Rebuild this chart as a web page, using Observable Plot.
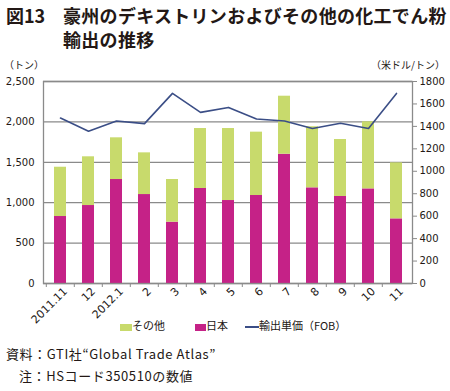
<!DOCTYPE html>
<html><head><meta charset="utf-8">
<script src="https://cdn.jsdelivr.net/npm/d3@7"></script>
<script src="https://cdn.jsdelivr.net/npm/@observablehq/plot@0.6"></script>
<style>
body{margin:0;width:450px;height:391px;position:relative;background:#fff;font-family:"Noto Sans CJK JP",sans-serif;color:#231815;overflow:hidden}
.abs{position:absolute;white-space:nowrap}
#chart{position:absolute;left:0;top:55px}
.sw{display:inline-block;vertical-align:middle}
</style></head><body>
<div id="chart"></div>
<div class="abs" style="left:6px;top:4px;font-size:18px;font-weight:bold;line-height:23px">図13</div>
<div class="abs" style="left:63px;top:4px;font-size:18px;font-weight:bold;line-height:23px;letter-spacing:0.3px">豪州のデキストリンおよびその他の化工でん粉</div>
<div class="abs" style="left:63px;top:28px;font-size:18px;font-weight:bold;line-height:23px;letter-spacing:0.3px">輸出の推移</div>
<div class="abs" style="left:4px;top:57px;font-size:10px">（トン）</div>
<div class="abs" style="right:5px;top:57px;font-size:10px">（米ドル/トン）</div>
<div class="abs" style="left:120px;top:317px;font-size:11px;line-height:16px"><span class="sw" style="width:12px;height:7px;background:#C8DA6C"></span>その他</div>
<div class="abs" style="left:195px;top:317px;font-size:11px;line-height:16px"><span class="sw" style="width:11px;height:7px;background:#C52287"></span>日本</div>
<div class="abs" style="left:245px;top:317px;font-size:11px;line-height:16px"><span class="sw" style="width:14px;height:2px;background:#3B4E86"></span>輸出単価（FOB）</div>
<div class="abs" style="left:6px;top:345px;font-size:13px;line-height:18px;letter-spacing:0.6px">資料：GTI社“Global Trade Atlas”</div>
<div class="abs" style="left:19px;top:367px;font-size:13px;line-height:18px;letter-spacing:0.6px">注：HSコード350510の数値</div>
<script>
const months = ["2011.11","12","2012.1","2","3","4","5","6","7","8","9","10","11"];
const japan  = [829, 965, 1287, 1101, 759, 1176, 1027, 1089, 1600, 1184, 1077, 1171, 800];
const others = [610, 603, 516, 516, 528, 742, 891, 784, 718, 756, 705, 830, 693];
const price  = [1475, 1357, 1448, 1425, 1694, 1525, 1569, 1466, 1448, 1381, 1428, 1381, 1694];
const leftTicks = [0, 500, 1000, 1500, 2000, 2500];
const rightTicks = [0, 200, 400, 600, 800, 1000, 1200, 1400, 1600, 1800];

const ratio = 2500 / 1800;
const rows = [];
months.forEach((m, i) => rows.push({month: m, series: "日本", value: japan[i]}));
months.forEach((m, i) => rows.push({month: m, series: "その他", value: others[i]}));
const priceRows = months.map((m, i) => ({month: m, p: price[i]}));

const W = 450, H = 280, mL = 43, mR = 38, mT = 26, mB = 52;
const step = (W - mL - mR) / months.length;

const chart = Plot.plot({
  width: W, height: H,
  marginLeft: mL, marginRight: mR, marginTop: mT, marginBottom: mB,
  style: {fontFamily: "DejaVu Sans, sans-serif", fontSize: "10px", color: "#231815", background: "transparent"},
  x: {domain: months, paddingInner: 0.58, paddingOuter: 0.29, label: null},
  y: {domain: [0, 2500], label: null},
  color: {domain: ["日本", "その他"], range: ["#C52287", "#C8DA6C"]},
  marks: [
    Plot.ruleY(leftTicks, {stroke: "#8a8a8a", strokeWidth: 1.3}),
    Plot.barY(rows, {x: "month", y: "value", fill: "series"}),
    Plot.line(priceRows, {x: "month", y: d => d.p * ratio, stroke: "#3B4E86", strokeWidth: 1.6}),
    Plot.frame({stroke: "#8a8a8a", strokeWidth: 1.3}),
    Plot.axisY({ticks: leftTicks, tickSize: 0, tickPadding: 9, tickFormat: d3.format(","), label: null}),
    Plot.axisY({anchor: "right", ticks: rightTicks.map(v => v * ratio), tickSize: 4, tickPadding: 3,
      tickFormat: d => String(Math.round(d / ratio)), stroke: "#8a8a8a", label: null}),
    Plot.axisX({ticks: months, tickSize: 4, dx: -step / 2, tickFormat: () => "", stroke: "#8a8a8a", label: null}),
    Plot.axisX({ticks: months, tickSize: 0, tickPadding: 6, tickRotate: -45, dx: 5, fontSize: 11, label: null})
  ]
});
document.getElementById("chart").appendChild(chart);
</script>
</body></html>
